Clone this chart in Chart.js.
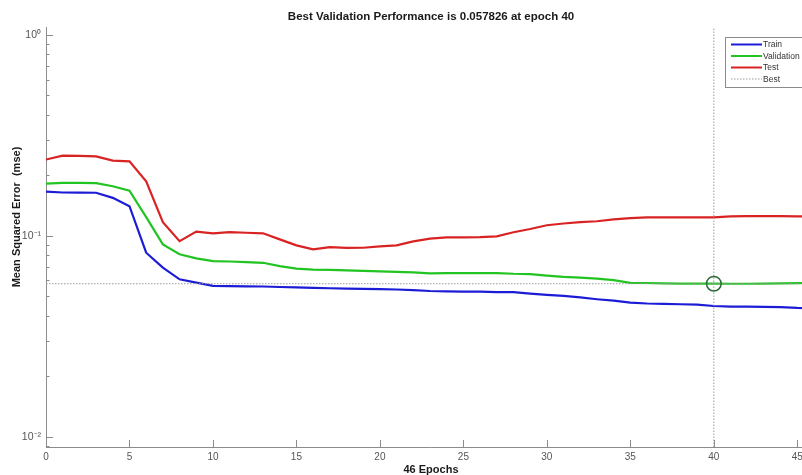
<!DOCTYPE html>
<html><head><meta charset="utf-8">
<script src="https://cdn.jsdelivr.net/npm/chart.js@4.4.1/dist/chart.umd.min.js"></script>
<style>
html,body{margin:0;padding:0;background:#fff;overflow:hidden;width:802px;height:475px}
#wrap{position:relative;width:830px;height:475px}
</style></head>
<body><div id="wrap"><canvas id="c" width="830" height="475"></canvas></div>
<script>
const epochs = [0,1,2,3,4,5,6,7,8,9,10,11,12,13,14,15,16,17,18,19,20,21,22,23,24,25,26,27,28,29,30,31,32,33,34,35,36,37,38,39,40,41,42,43,44,45,46];
const trainMSE = [0.1663,0.1645,0.1642,0.164,0.1547,0.1406,0.0825,0.0695,0.0608,0.0586,0.0564,0.0562,0.0561,0.0560,0.0557,0.0555,0.0551,0.0549,0.0547,0.0545,0.0543,0.0541,0.0537,0.0532,0.0530,0.0528,0.0528,0.0525,0.0525,0.0516,0.0509,0.0503,0.0494,0.0484,0.0476,0.0466,0.0461,0.0459,0.0457,0.0455,0.0448,0.0445,0.0445,0.0443,0.0442,0.0438,0.0436];
const validationMSE = [0.1822,0.1837,0.1835,0.183,0.1767,0.168,0.124,0.0907,0.081,0.0773,0.0749,0.0746,0.0741,0.0735,0.0708,0.0687,0.0680,0.0677,0.0674,0.0670,0.0666,0.0662,0.0658,0.0651,0.0653,0.0653,0.0653,0.0653,0.0648,0.0646,0.0635,0.0626,0.0620,0.0613,0.0603,0.0584,0.0583,0.0580,0.0579,0.0579,0.057826,0.0578,0.0578,0.0579,0.0580,0.0582,0.0583];
const testMSE = [0.240,0.251,0.250,0.249,0.237,0.235,0.187,0.117,0.0942,0.105,0.103,0.1045,0.1037,0.103,0.0961,0.0897,0.0857,0.0880,0.0871,0.0873,0.0887,0.0897,0.0940,0.0970,0.0983,0.0983,0.0986,0.0994,0.1043,0.1083,0.1130,0.1153,0.1170,0.1183,0.1208,0.1226,0.1236,0.1236,0.1236,0.1236,0.1236,0.1250,0.1255,0.1255,0.1255,0.1250,0.1250];
const bestEpoch = 40;
const bestPerf = 0.057826;
const seriesNames = ['Train','Validation','Test','Best'];
const chartTitle = 'Best Validation Performance is 0.057826 at epoch 40';
const xAxisTitle = '46 Epochs';
const yAxisTitle = 'Mean Squared Error  (mse)';
const xTickValues = [0,5,10,15,20,25,30,35,40,45];
const xTickLabels = ['0','5','10','15','20','25','30','35','40','45'];
const yTickValues = [0.01,0.1,1];
const yTickLabels = ['10\u207B\u00B2','10\u207B\u00B9','10\u2070'];
const xRange = [0,46];
const yRange = [0.0089,1.096];

const colors = {train:'#1c1cd6', val:'#22c422', test:'#d92323', best:'#9a9a9a', circle:'#2e6b3a', axis:'#8c8c8c'};
const FONT = "'Liberation Sans', Arial, sans-serif";

const pts = arr => epochs.map((e,i)=>({x:e,y:arr[i]}));

const decor = {
  id:'decor',
  afterDraw(chart){
    const ctx = chart.ctx, a = chart.chartArea;
    const xs = chart.scales.x, ys = chart.scales.y;
    ctx.save();
    ctx.strokeStyle = colors.axis; ctx.lineWidth = 1;
    xTickValues.forEach(v=>{
      const px = Math.round(xs.getPixelForValue(v))+0.5;
      ctx.beginPath(); ctx.moveTo(px,a.bottom); ctx.lineTo(px,a.bottom-7); ctx.stroke();
    });
    yTickValues.forEach(v=>{
      const py = Math.round(ys.getPixelForValue(v))+0.5;
      ctx.beginPath(); ctx.moveTo(a.left,py); ctx.lineTo(a.left+7,py); ctx.stroke();
    });
    for(let d=-3; d<=0; d++){
      for(let k=2;k<=9;k++){
        const v = k*Math.pow(10,d);
        if(v<yRange[0]||v>yRange[1]) continue;
        const py = Math.round(ys.getPixelForValue(v))+0.5;
        ctx.beginPath(); ctx.moveTo(a.left,py); ctx.lineTo(a.left+3.5,py); ctx.stroke();
      }
    }
    ctx.fillStyle = '#1a1a1a';
    ctx.textAlign='center'; ctx.textBaseline='middle';
    ctx.font = 'bold 11.5px '+FONT;
    ctx.fillText(chartTitle, 431, 17);
    ctx.font = 'bold 11px '+FONT;
    ctx.fillText(xAxisTitle, 431, 470);
    ctx.save(); ctx.translate(17,217); ctx.rotate(-Math.PI/2);
    ctx.fillText(yAxisTitle,0,0); ctx.restore();
    const lx=725, ly=37, lw=84, lh=50;
    ctx.fillStyle='#fff'; ctx.fillRect(lx,ly,lw,lh);
    ctx.strokeStyle='#8a8a8a'; ctx.lineWidth=1;
    ctx.strokeRect(lx+0.5,ly+0.5,lw,lh);
    const rowY=[44.5,56,67.5,79];
    const rowC=[colors.train,colors.val,colors.test,colors.best];
    ctx.font='8.5px '+FONT; ctx.textAlign='left'; ctx.textBaseline='middle';
    seriesNames.forEach((n,i)=>{
      ctx.save();
      ctx.strokeStyle=rowC[i];
      if(i===3){ctx.lineWidth=1; ctx.setLineDash([1.5,1.5]);} else ctx.lineWidth=2;
      ctx.beginPath(); ctx.moveTo(731,rowY[i]); ctx.lineTo(762,rowY[i]); ctx.stroke();
      ctx.restore();
      ctx.fillStyle='#333'; ctx.fillText(n,763,rowY[i]+0.5);
    });
    ctx.restore();
  }
};

new Chart(document.getElementById('c'),{
  type:'line',
  data:{datasets:[
    {label:'BestCircle', data:[{x:bestEpoch,y:bestPerf}], showLine:false, pointRadius:7.3, pointBorderWidth:1.5, pointBorderColor:colors.circle, pointBackgroundColor:'rgba(0,0,0,0)', pointStyle:'circle'},
    {label:'BestH', data:[{x:xRange[0],y:bestPerf},{x:xRange[1],y:bestPerf}], borderColor:colors.best, borderWidth:1, borderDash:[1.5,1.5], pointRadius:0},
    {label:'BestV', data:[{x:bestEpoch,y:yRange[0]},{x:bestEpoch,y:yRange[1]}], borderColor:colors.best, borderWidth:1, borderDash:[1.5,1.5], pointRadius:0},
    {label:seriesNames[2], data:pts(testMSE), borderColor:colors.test, borderWidth:2.2, pointRadius:0, tension:0},
    {label:seriesNames[1], data:pts(validationMSE), borderColor:colors.val, borderWidth:2.2, pointRadius:0, tension:0},
    {label:seriesNames[0], data:pts(trainMSE), borderColor:colors.train, borderWidth:2.2, pointRadius:0, tension:0}
  ]},
  options:{
    responsive:false, animation:false, devicePixelRatio:1,
    layout:{padding:{left:0,right:16,top:27,bottom:0}},
    plugins:{legend:{display:false}, title:{display:false}, tooltip:{enabled:false}},
    scales:{
      x:{type:'linear', min:xRange[0], max:xRange[1], bounds:'data',
        grid:{display:false, drawTicks:false},
        border:{display:true, color:colors.axis, width:1},
        ticks:{padding:4, color:'#555', font:{size:10, family:FONT}, autoSkip:false, maxRotation:0,
          callback:(v,i)=>xTickLabels[i]},
        afterBuildTicks:s=>{s.ticks = xTickValues.map(v=>({value:v}));},
        afterFit:s=>{s.height=28;}
      },
      y:{type:'logarithmic', min:yRange[0], max:yRange[1], bounds:'data',
        grid:{display:false, drawTicks:false},
        border:{display:true, color:colors.axis, width:1},
        ticks:{padding:5, color:'#555', font:{size:10.5, family:FONT}, autoSkip:false,
          callback:(v,i)=>yTickLabels[i]},
        afterBuildTicks:s=>{s.ticks = yTickValues.map(v=>({value:v}));},
        afterFit:s=>{s.width=46;}
      }
    }
  },
  plugins:[decor]
});
</script>
</body></html>
